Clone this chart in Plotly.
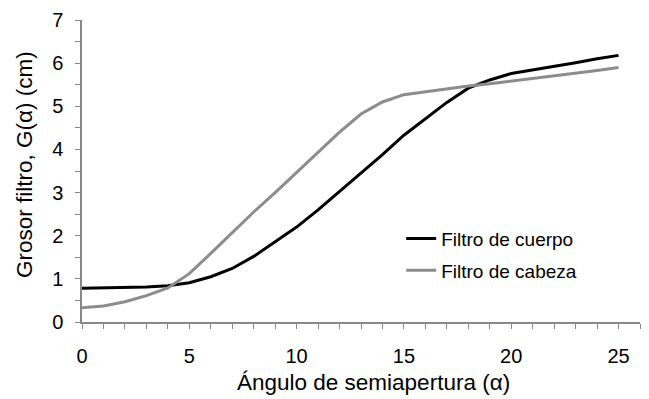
import plotly.graph_objects as go

# Semi-aperture angle (degrees)
angulo = list(range(0, 26))

# Filter thickness G(alpha), cm
filtro_cuerpo = [0.78, 0.79, 0.80, 0.81, 0.84, 0.91, 1.05, 1.24, 1.52, 1.85,
                 2.20, 2.60, 3.02, 3.45, 3.88, 4.33, 4.72, 5.09, 5.42, 5.61,
                 5.76, 5.84, 5.92, 6.01, 6.10, 6.18]
filtro_cabeza = [0.33, 0.37, 0.47, 0.61, 0.79, 1.12, 1.59, 2.08, 2.55, 3.00,
                 3.47, 3.93, 4.40, 4.82, 5.10, 5.27, 5.34, 5.41, 5.47, 5.52,
                 5.58, 5.64, 5.70, 5.77, 5.83, 5.90]

x_ticks = list(range(0, 27))
x_labels = [str(v) if v % 5 == 0 else "" for v in x_ticks]
y_ticks = [i * 0.5 for i in range(15)]
y_labels = [str(int(v)) if v == int(v) else "" for v in y_ticks]

font = "Arial, Liberation Sans, sans-serif"
axis_grey = "#888888"

fig = go.Figure()
fig.add_trace(go.Scatter(x=angulo, y=filtro_cuerpo, mode="lines",
                         name="Filtro de cuerpo", legendgroup="cuerpo",
                         line=dict(color="#000000", width=3)))
fig.add_trace(go.Scatter(x=angulo, y=filtro_cabeza, mode="lines",
                         name="Filtro de cabeza", legendgroup="cabeza",
                         line=dict(color="#8c8c8c", width=3)))

axis_common = dict(tickmode="array", ticks="outside", ticklen=5,
                   tickcolor=axis_grey, showline=True, linecolor=axis_grey,
                   linewidth=1.5, showgrid=False, zeroline=False,
                   tickfont=dict(size=20))

fig.update_layout(
    width=649, height=399,
    margin=dict(l=82, r=9, t=15, b=77),
    paper_bgcolor="white", plot_bgcolor="white",
    font=dict(family=font, size=19, color="#000000"),
    showlegend=True,
    legend=dict(x=0.572, y=0.223, xanchor="left", yanchor="middle",
                bgcolor="rgba(0,0,0,0)", font=dict(size=19),
                traceorder="grouped", tracegroupgap=4),
    xaxis=dict(range=[0, 26], tickvals=x_ticks, ticktext=x_labels,
               ticklabelstandoff=10, **axis_common),
    yaxis=dict(range=[0, 7], tickvals=y_ticks, ticktext=y_labels,
               ticklabelstandoff=8, **axis_common),
    annotations=[
        dict(text="Ángulo de semiapertura (α)", xref="paper", yref="paper",
             x=0.523, y=-0.199, xanchor="center", yanchor="middle",
             showarrow=False, font=dict(size=22.5)),
        dict(text="Grosor filtro, G(α) (cm)", xref="paper", yref="paper",
             x=-0.104, y=0.523, xanchor="center", yanchor="middle",
             textangle=-90, showarrow=False, font=dict(size=22.5)),
    ],
)

fig.write_html("out.html")
